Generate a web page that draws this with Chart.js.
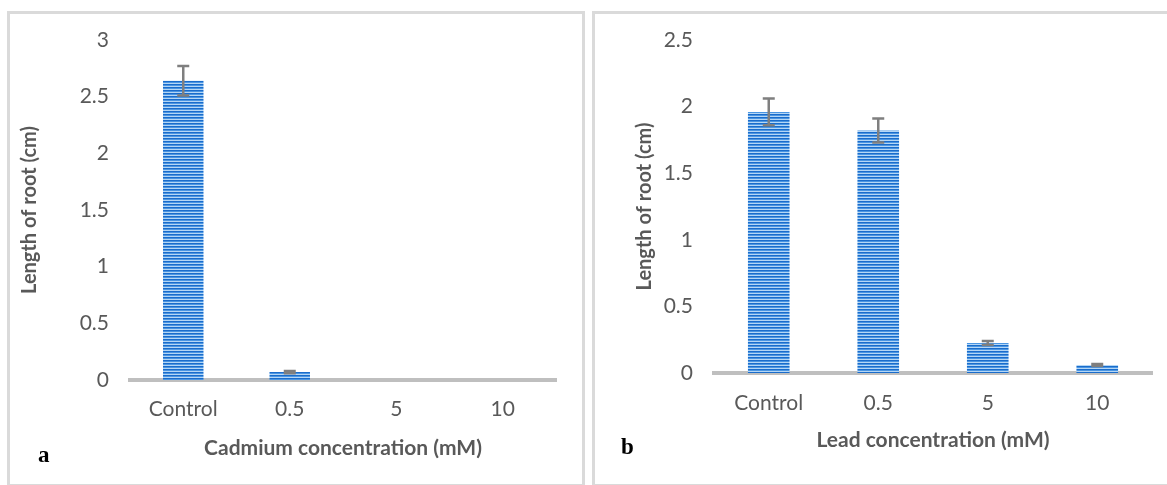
<!DOCTYPE html>
<html>
<head>
<meta charset="utf-8">
<script src="https://cdn.jsdelivr.net/npm/chart.js@4.4.1/dist/chart.umd.min.js"></script>
<style>
  html, body { margin: 0; padding: 0; background: #fff; }
  body { width: 1167px; height: 485px; position: relative; overflow: hidden; }
  .panel { position: absolute; border: 3px solid #dadada; box-sizing: border-box; }
  .wrap { position: absolute; top: 0; height: 485px; }
  .tag { position: absolute; font-family: "Liberation Serif", serif; font-weight: bold; font-size: 23px; color: #000; }
</style>
</head>
<body>
<div class="panel" style="left:7px; top:11px; width:578px; height:476px;"></div>
<div class="panel" style="left:592px; top:11px; width:578px; height:476px;"></div>
<div class="wrap" style="left:0; width:590px;"><canvas id="chartCd"></canvas></div>
<div class="wrap" style="left:590px; width:577px;"><canvas id="chartPb"></canvas></div>
<div class="tag" style="left:38px; top:442px;">a</div>
<div class="tag" style="left:621px; top:434px;">b</div>

<script>
// categories shared by both panels
const categories = ['Control', '0.5', '5', '10'];

// panel a - cadmium
const cdLengths = [2.64, 0.07, 0, 0];
const cdErrors = [0.13, 0.01, 0, 0];

// panel b - lead
const pbLengths = [1.96, 1.82, 0.225, 0.06];
const pbErrors = [0.10, 0.09, 0.015, 0.008];

const yTitle = 'Length of root (cm)';
const cdTitle = 'Cadmium concentration (mM)';
const pbTitle = 'Lead concentration (mM)';

const textGrey = '#595959';
const fontFam = 'Lato, "Open Sans", sans-serif';

// striped blue fill like the excel pattern
function stripePattern() {
    const c = document.createElement('canvas');
    c.width = 4;
    c.height = 3;
    const g = c.getContext('2d');
    g.fillStyle = '#1a6ccb'; g.fillRect(0, 0, 4, 1);
    g.fillStyle = '#4a95e2'; g.fillRect(0, 1, 4, 1);
    g.fillStyle = '#b4d6f5'; g.fillRect(0, 2, 4, 1);
    return g.createPattern(c, 'repeat');
}

// draws error bars using the y scale of the chart
const errorBars = {
    id: 'errorBars',
    afterDatasetsDraw(chart, args, opts) {
        const ctx = chart.ctx;
        const yScale = chart.scales.y;
        const meta = chart.getDatasetMeta(0);
        const vals = chart.data.datasets[0].data;
        ctx.save();
        ctx.strokeStyle = '#7f7f7f';
        ctx.lineWidth = 2.5;
        meta.data.forEach((bar, i) => {
            const err = opts.errors[i];
            if (!err) return;
            const top = yScale.getPixelForValue(vals[i] + err);
            const bot = yScale.getPixelForValue(vals[i] - err);
            const x = bar.x;
            ctx.beginPath();
            ctx.moveTo(x, top); ctx.lineTo(x, bot);
            ctx.moveTo(x - 6, top); ctx.lineTo(x + 6, top);
            ctx.moveTo(x - 6, bot); ctx.lineTo(x + 6, bot);
            ctx.stroke();
        });
        ctx.restore();
    }
};

function makeChart(id, values, errors, xTitle, yMax, cfg) {
    const ctx = document.getElementById(id).getContext('2d');
    return new Chart(ctx, {
        type: 'bar',
        data: {
            labels: categories,
            datasets: [{
                data: values,
                backgroundColor: stripePattern(),
                borderWidth: 0,
                barPercentage: 0.38,
                categoryPercentage: 1
            }]
        },
        options: {
            responsive: true,
            maintainAspectRatio: false,
            animation: false,
            layout: {
                padding: { left: cfg.padLeft, top: 40, right: cfg.padRight, bottom: 0 }
            },
            plugins: {
                legend: { display: false },
                tooltip: { enabled: false },
                errorBars: { errors: errors }
            },
            scales: {
                y: {
                    min: 0,
                    max: yMax,
                    grid: { display: false, drawTicks: false },
                    border: { display: false },
                    ticks: {
                        stepSize: 0.5,
                        color: textGrey,
                        padding: 21,
                        font: { family: fontFam, size: 21 },
                        callback: (v) => String(Math.round(v * 10) / 10)
                    },
                    title: {
                        display: true,
                        text: yTitle,
                        color: textGrey,
                        padding: 0,
                        font: { family: fontFam, size: 20, weight: 'bold' }
                    },
                    afterFit(scale) { scale.width = cfg.yWidth; }
                },
                x: {
                    grid: { display: false, drawTicks: false },
                    border: { display: true, color: '#bfbfbf', width: 4 },
                    ticks: {
                        color: textGrey,
                        padding: cfg.xTickPad,
                        font: { family: fontFam, size: 21 }
                    },
                    title: {
                        display: true,
                        text: xTitle,
                        color: textGrey,
                        padding: { top: 0, bottom: cfg.xTitlePad },
                        font: { family: fontFam, size: 21, weight: 'bold' }
                    },
                    afterFit(scale) { scale.height = cfg.xHeight; }
                }
            }
        },
        plugins: [errorBars]
    });
}

makeChart('chartCd', cdLengths, cdErrors, cdTitle, 3,
    { padLeft: 18, padRight: 34, yWidth: 112, xHeight: 105, xTickPad: 17, xTitlePad: 24 });
makeChart('chartPb', pbLengths, pbErrors, pbTitle, 2.5,
    { padLeft: 43, padRight: 15, yWidth: 81, xHeight: 112, xTickPad: 18, xTitlePad: 32 });
</script>
</body>
</html>
